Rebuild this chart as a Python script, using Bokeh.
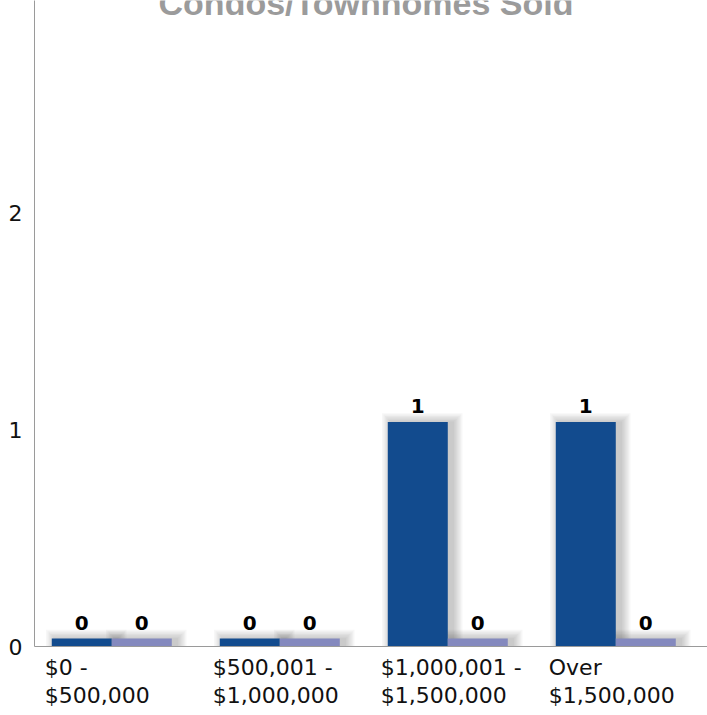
from bokeh.plotting import figure
from bokeh.models import Range1d, FixedTicker, Label, ColumnDataSource, LinearAxis
from bokeh.core.properties import value
from bokeh.embed import file_html
from bokeh.resources import INLINE

# ---- data ----
cat_line1 = ["$0 -", "$500,001 -", "$1,000,001 -", "Over"]
cat_line2 = ["$500,000", "$1,000,000", "$1,500,000", "$1,500,000"]
series_dark = [0, 0, 1, 1]
series_light = [0, 0, 0, 0]
y_ticks = [0, 1, 2]
title_text = "Condos/Townhomes Sold"

# ---- layout ----
W, H = 707, 710
LEFT, BOTTOM = 34, 60
FW, FH = W - LEFT, H - BOTTOM
PX_PER_CAT = 168.0
PX_PER_UNIT = 218.0
X0 = -0.46
X1 = X0 + FW / PX_PER_CAT
Y0, Y1 = 0.0, FH / PX_PER_UNIT
PXX = 1.0 / PX_PER_CAT
PXY = 1.0 / PX_PER_UNIT
BAR_W = 60 * PXX
MIN_H = 8 * PXY
LABEL_LEFT_PX = -67
FONT_PX = 22

DARK = "#124B8E"
LIGHT = "#8489BE"

# approx. DejaVu Sans advance widths (em)
CW = {"$": 0.636, ",": 0.318, " ": 0.318, "-": 0.361,
      "O": 0.787, "v": 0.592, "e": 0.615, "r": 0.411}


def text_w(s):
    return sum(CW.get(ch, 0.636) for ch in s) * FONT_PX


p = figure(width=W, height=H, output_backend="svg", toolbar_location=None,
           title=None, x_range=Range1d(X0, X1), y_range=Range1d(Y0, Y1),
           min_border_left=LEFT, min_border_bottom=BOTTOM,
           min_border_top=0, min_border_right=0)
p.outline_line_color = None
p.xgrid.visible = False
p.ygrid.visible = False
p.background_fill_color = "white"
p.border_fill_color = "white"

# y axis
p.yaxis.ticker = FixedTicker(ticks=y_ticks)
p.yaxis.axis_line_color = "#9a9a9a"
p.yaxis.major_tick_line_color = None
p.yaxis.major_tick_out = 0
p.yaxis.major_tick_in = 0
p.yaxis.minor_tick_line_color = None
p.yaxis.major_label_standoff = 12
p.yaxis.major_label_text_font = "DejaVu Sans"
p.yaxis.major_label_text_font_size = "22px"
p.yaxis.major_label_text_color = "#111111"

idx = list(range(len(series_dark)))

# x axes: two stacked axes give left-aligned two-line category labels
pos1 = [i + (LABEL_LEFT_PX + text_w(s) / 2) * PXX for i, s in zip(idx, cat_line1)]
pos2 = [i + (LABEL_LEFT_PX + text_w(s) / 2) * PXX for i, s in zip(idx, cat_line2)]


def style_x(ax, ticks, labels, standoff, line_color):
    ax.ticker = FixedTicker(ticks=ticks)
    ax.major_label_overrides = {t: s for t, s in zip(ticks, labels)}
    ax.axis_line_color = line_color
    ax.major_tick_line_color = None
    ax.minor_tick_line_color = None
    ax.major_tick_out = 0
    ax.major_tick_in = 0
    ax.major_label_standoff = standoff
    ax.major_label_text_font = "DejaVu Sans"
    ax.major_label_text_font_size = f"{FONT_PX}px"
    ax.major_label_text_color = "#111111"


style_x(p.xaxis[0], pos1, cat_line1, 8, "#9a9a9a")
ax2 = LinearAxis()
style_x(ax2, pos2, cat_line2, 0, None)
p.add_layout(ax2, "below")

dark_left = [i - BAR_W for i in idx]
dark_right = [i for i in idx]
light_left = [i for i in idx]
light_right = [i + BAR_W for i in idx]
dark_top = [v + MIN_H for v in series_dark]
light_top = [v + MIN_H for v in series_light]

# soft drop shadows
all_left = dark_left + light_left
all_right = dark_right + light_right
all_top = dark_top + light_top
for k in range(1, 8):
    e = k * 1.4
    p.quad(left=[l + (4 - e) * PXX for l in all_left],
           right=[r + (5 + e) * PXX for r in all_right],
           bottom=[0] * len(all_top),
           top=[t + (e - 1) * PXY for t in all_top],
           fill_color="black", fill_alpha=0.03, line_color=None)

p.quad(left=dark_left, right=dark_right, bottom=[0] * len(idx), top=dark_top,
       fill_color=DARK, line_color=None)
p.quad(left=light_left, right=light_right, bottom=[0] * len(idx), top=light_top,
       fill_color=LIGHT, line_color=None)

# value labels
lab_src = ColumnDataSource(dict(
    x=[i - BAR_W / 2 for i in idx] + [i + BAR_W / 2 for i in idx],
    y=dark_top + light_top,
    t=[str(v) for v in series_dark] + [str(v) for v in series_light],
))
p.text(x="x", y="y", text="t", source=lab_src, y_offset=-9,
       text_align="center", text_baseline="bottom",
       text_font=value("DejaVu Sans"), text_font_style="bold",
       text_font_size="20px", text_color="black")

# title (partly cut off at top as in the reference)
p.add_layout(Label(x=FW / 2 - 5, y=FH - 6, x_units="screen", y_units="screen",
                   text=title_text, text_align="center",
                   text_baseline="alphabetic", text_font="Liberation Sans",
                   text_font_style="bold", text_font_size="34px",
                   text_color="#9b9b9b"))

open("out.html", "w").write(file_html(p, INLINE))
